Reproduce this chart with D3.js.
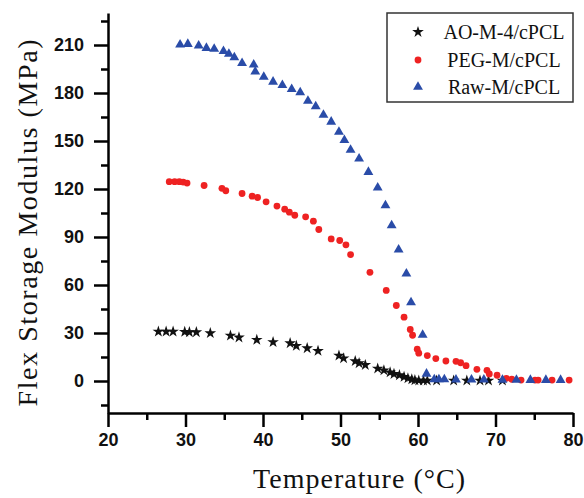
<!DOCTYPE html>
<html>
<head>
<meta charset="utf-8">
<script src="https://cdn.jsdelivr.net/npm/d3@7"></script>
<style>
  html, body { margin: 0; padding: 0; background: #fff; }
  svg { display: block; }
</style>
</head>
<body>
<svg id="chart"></svg>
<script>
// AO-M-4/cPCL (black stars)
const aoTemp = [26.5, 27.5, 28.4, 29.9, 30.5, 31.4, 33.2, 35.8, 36.9, 39.2, 41.3, 43.5, 44.3, 45.7,
  47.1, 49.8, 50.4, 51.9, 52.4, 53.2, 54.8, 55.6, 56.4, 56.9, 57.6, 58.2, 58.7, 59.2, 59.6, 60.1,
  60.7, 61.2, 62.4, 64.6, 66.3, 68.0, 69.1, 70.9];
const aoMod = [30.9, 30.9, 30.9, 30.7, 30.5, 30.5, 29.9, 28.4, 27.2, 25.7, 24.3, 23.6, 22.0, 20.5,
  18.8, 15.9, 14.2, 12.4, 11.1, 10.0, 7.8, 6.7, 5.4, 4.4, 3.6, 2.6, 1.7, 1.0, 0.5, 0.3,
  0.3, 0.3, 0.3, 0.3, 0.3, 0.3, 0.3, 0.3];

// PEG-M/cPCL (red circles)
const pegTemp = [27.9, 28.6, 29.2, 29.7, 30.2, 32.4, 34.7, 35.2, 37.3, 38.6, 39.3, 40.4, 41.8, 42.8,
  43.4, 44.1, 45.5, 46.5, 47.2, 48.8, 49.9, 50.7, 51.3, 53.8, 55.9, 57.2, 58.2, 59.0, 59.3, 59.9,
  60.1, 61.2, 62.3, 63.6, 64.9, 65.5, 66.2, 67.6, 68.9, 69.2, 70.2, 71.4, 72.1, 73.3, 75.1, 75.5,
  77.3, 79.5];
const pegMod = [124.6, 124.6, 124.6, 124.3, 123.7, 122.2, 120.4, 118.9, 117.2, 115.5, 114.7, 112.0, 109.3, 107.4,
  105.5, 103.6, 102.6, 99.9, 94.7, 88.8, 87.8, 85.1, 79.0, 67.9, 56.6, 47.2, 39.9, 32.2, 28.6, 19.9,
  17.4, 15.9, 14.0, 12.5, 12.3, 11.4, 9.6, 7.3, 6.7, 4.4, 3.6, 1.7, 1.1, 0.6, 0.6, 0.6,
  0.6, 0.6];

// Raw-M/cPCL (blue triangles)
const rawTemp = [29.3, 30.3, 31.7, 32.7, 33.7, 34.9, 35.6, 36.3, 37.3, 38.8, 39.0, 40.1, 41.3, 42.5,
  43.7, 44.8, 45.8, 46.8, 47.8, 48.8, 49.8, 50.5, 51.3, 52.4, 53.6, 54.8, 55.8, 56.6, 57.5, 58.5,
  59.1, 60.6, 61.1, 62.1, 62.7, 63.4, 64.9, 66.9, 68.5, 70.9, 72.7, 74.5, 76.5, 78.4];
const rawMod = [210.2, 210.6, 209.6, 208.1, 207.5, 206.2, 204.4, 202.3, 198.7, 197.7, 193.3, 190.0, 187.0, 184.9,
  182.4, 180.4, 175.0, 171.6, 166.3, 162.0, 155.7, 150.5, 144.4, 139.0, 130.6, 120.8, 109.7, 97.2, 82.1, 67.1,
  49.1, 28.8, 4.5, 1.0, 1.0, 1.0, 0.8, 0.8, 0.8, 0.7, 0.7, 0.6, 0.6, 0.6];

const xTicks = [20, 30, 40, 50, 60, 70, 80];
const xMinor = [25, 35, 45, 55, 65, 75];
const yTicks = [0, 30, 60, 90, 120, 150, 180, 210];
const yMinor = [-15, 15, 45, 75, 105, 135, 165, 195, 225];

const seriesNames = ['AO-M-4/cPCL', 'PEG-M/cPCL', 'Raw-M/cPCL'];

const width = 584, height = 498;
const margin = { top: 13, right: 11, bottom: 85, left: 108 };

const svg = d3.select('#chart').attr('width', width).attr('height', height);

const x = d3.scaleLinear().domain([20, 80]).range([margin.left, width - margin.right]);
const y = d3.scaleLinear().domain([-20, 230]).range([height - margin.bottom, margin.top]);

const tickFont = 'Liberation Sans, Arial, sans-serif';
const serif = 'Liberation Serif, Times New Roman, serif';

// x axis
const xAxis = svg.append('g')
  .attr('transform', `translate(0,${y(-20)})`)
  .call(d3.axisBottom(x).tickValues(xTicks).tickSize(14).tickSizeOuter(0).tickPadding(6));
svg.append('g')
  .attr('transform', `translate(0,${y(-20)})`)
  .call(d3.axisBottom(x).tickValues(xMinor).tickSize(7).tickSizeOuter(0).tickFormat(''))
  .select('.domain').remove();

// y axis
const yAxis = svg.append('g')
  .attr('transform', `translate(${x(20)},0)`)
  .call(d3.axisLeft(y).tickValues(yTicks).tickSize(14).tickSizeOuter(0).tickPadding(10));
svg.append('g')
  .attr('transform', `translate(${x(20)},0)`)
  .call(d3.axisLeft(y).tickValues(yMinor).tickSize(7).tickSizeOuter(0).tickFormat(''))
  .select('.domain').remove();

svg.selectAll('.domain').attr('stroke', '#000').attr('stroke-width', 2.5);
svg.selectAll('.tick line').attr('stroke', '#000').attr('stroke-width', 2.5);
svg.selectAll('.tick text')
  .attr('fill', '#111')
  .style('font-family', tickFont)
  .style('font-size', '18px')
  .style('font-weight', 'bold');

// axis titles
svg.append('text')
  .attr('x', 359)
  .attr('y', 488)
  .attr('text-anchor', 'middle')
  .attr('textLength', 212)
  .attr('lengthAdjust', 'spacing')
  .style('font-family', serif)
  .style('font-size', '28px')
  .attr('fill', '#111')
  .text('Temperature (°C)');

svg.append('text')
  .attr('transform', 'translate(37,223) rotate(-90)')
  .attr('text-anchor', 'middle')
  .attr('textLength', 367)
  .attr('lengthAdjust', 'spacing')
  .style('font-family', serif)
  .style('font-size', '28px')
  .attr('fill', '#111')
  .text('Flex Storage Modulus (MPa)');

const colors = ['#111111', '#ee2222', '#2a4ca8'];
const star = d3.symbol().type(d3.symbolStar).size(42);
const tri = d3.symbol().type(d3.symbolTriangle).size(42);

const plot = svg.append('g');

// black stars
plot.selectAll('.ao')
  .data(d3.zip(aoTemp, aoMod))
  .join('path')
  .attr('class', 'ao')
  .attr('d', star)
  .attr('transform', d => `translate(${x(d[0])},${y(d[1])})`)
  .attr('fill', colors[0]);

// red dots
plot.selectAll('.peg')
  .data(d3.zip(pegTemp, pegMod))
  .join('circle')
  .attr('class', 'peg')
  .attr('cx', d => x(d[0]))
  .attr('cy', d => y(d[1]))
  .attr('r', 3.4)
  .attr('fill', colors[1]);

// blue triangles
plot.selectAll('.raw')
  .data(d3.zip(rawTemp, rawMod))
  .join('path')
  .attr('class', 'raw')
  .attr('d', tri)
  .attr('transform', d => `translate(${x(d[0])},${y(d[1])})`)
  .attr('fill', colors[2]);

// legend
const legend = svg.append('g');
legend.append('rect')
  .attr('x', 387).attr('y', 13)
  .attr('width', 186).attr('height', 89)
  .attr('fill', '#fff')
  .attr('stroke', '#333')
  .attr('stroke-width', 1.5);

const rowY = [32, 60, 87];
seriesNames.forEach((name, i) => {
  if (i === 1) {
    legend.append('circle').attr('cx', 418).attr('cy', rowY[i]).attr('r', 3.4).attr('fill', colors[i]);
  } else {
    legend.append('path')
      .attr('d', i === 0 ? star : tri)
      .attr('transform', `translate(418,${rowY[i]})`)
      .attr('fill', colors[i]);
  }
  legend.append('text')
    .attr('x', 504)
    .attr('y', rowY[i] + 7)
    .attr('text-anchor', 'middle')
    .style('font-family', serif)
    .style('font-size', '20px')
    .attr('fill', '#111')
    .text(name);
});
</script>
</body>
</html>
